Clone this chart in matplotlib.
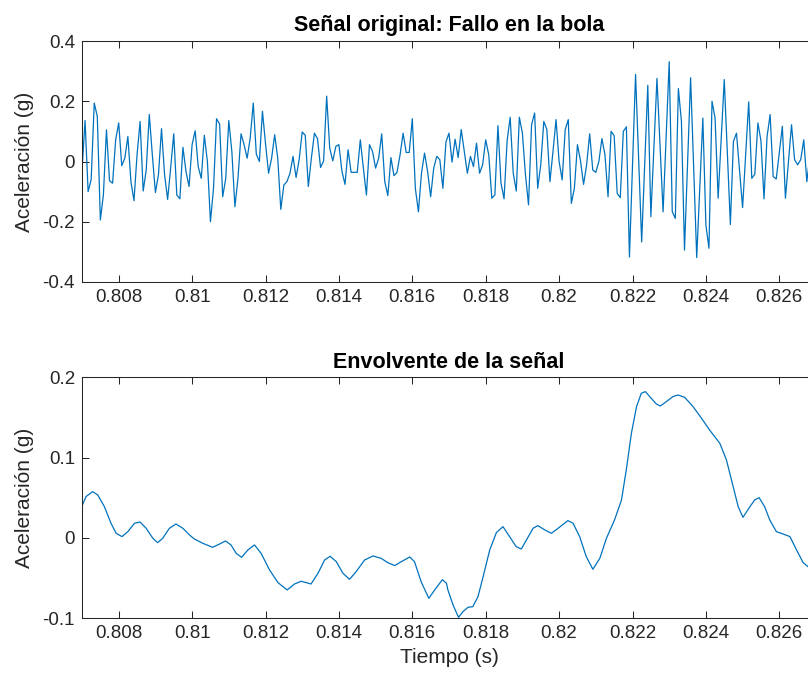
import matplotlib
matplotlib.use("Agg")
import matplotlib.pyplot as plt
import numpy as np
from matplotlib.ticker import FuncFormatter

# --- datos ---
FS = 12000.0          # Hz, muestreo
T0 = 0.807            # s, primera muestra

senal = [
    -0.030, 0.136, -0.100, -0.060, 0.194, 0.150, -0.194, -0.110, 0.105, -0.064,
    -0.072, 0.072, 0.128, -0.014, 0.011, 0.083, -0.067, -0.130, 0.022, 0.133,
    -0.098, -0.028, 0.156, 0.022, -0.103, -0.044, 0.109, -0.044, -0.126, -0.020,
    0.092, -0.111, -0.124, 0.047, -0.033, -0.083, 0.056, 0.102, -0.017, -0.056,
    0.087, 0.000, -0.200, -0.089, 0.142, 0.124, -0.117, -0.056, 0.136, 0.033,
    -0.150, -0.056, 0.092, 0.056, 0.011, 0.078, 0.194, 0.024, 0.000, 0.167,
    0.060, -0.039, 0.011, 0.089, 0.011, -0.159, -0.078, -0.067, -0.039, 0.017,
    -0.053, 0.006, 0.098, 0.087, -0.083, 0.011, 0.094, 0.076, -0.020, 0.002,
    0.217, 0.044, 0.002, 0.050, 0.056, -0.033, -0.076, 0.039, -0.036, -0.036,
    -0.036, 0.072, -0.022, -0.111, 0.056, 0.033, -0.022, 0.011, 0.092, -0.067,
    -0.113, 0.013, -0.047, -0.036, 0.022, 0.094, 0.030, 0.030, 0.142, -0.089,
    -0.167, -0.039, 0.028, -0.033, -0.117, -0.022, 0.017, 0.006, -0.089, 0.065,
    0.094, -0.002, 0.074, 0.013, 0.106, 0.033, -0.039, 0.017, -0.017, 0.061,
    -0.039, -0.011, 0.072, 0.022, -0.122, -0.111, 0.119, -0.072, -0.124, 0.069,
    0.147, -0.039, -0.098, 0.147, 0.094, -0.044, -0.144, 0.122, 0.161, -0.089,
    -0.011, 0.133, 0.106, -0.067, 0.033, 0.139, 0.000, -0.061, 0.106, 0.139,
    -0.139, -0.089, 0.056, 0.002, -0.076, -0.011, 0.092, -0.028, -0.036, 0.000,
    0.076, 0.022, -0.117, 0.100, 0.086, -0.106, -0.120, 0.100, 0.115, -0.317,
    -0.013, 0.289, 0.011, -0.267, -0.007, 0.253, -0.183, 0.047, 0.276, 0.054,
    -0.167, 0.082, 0.331, -0.167, -0.189, 0.242, 0.133, -0.294, -0.009, 0.278,
    -0.020, -0.319, -0.087, 0.144, -0.211, -0.288, 0.200, 0.144, -0.122, 0.075,
    0.272, 0.032, -0.209, 0.067, 0.094, -0.029, -0.153, 0.022, 0.198, -0.056,
    -0.042, 0.128, 0.069, -0.124, 0.083, 0.156, -0.050, -0.058, 0.030, 0.117,
    -0.122, 0.000, 0.122, 0.006, -0.011, 0.006, 0.072, -0.067, 0.020,
]

env_t = [
    0.80700, 0.80711, 0.80729, 0.80743, 0.80761, 0.80779, 0.80793, 0.80809, 0.80825, 0.80843,
    0.80858, 0.80875, 0.80893, 0.80906, 0.80920, 0.80938, 0.80956, 0.80975, 0.80993, 0.81006,
    0.81029, 0.81056, 0.81075, 0.81091, 0.81106, 0.81120, 0.81135, 0.81152, 0.81170, 0.81188,
    0.81211, 0.81234, 0.81259, 0.81279, 0.81297, 0.81311, 0.81324, 0.81343, 0.81361, 0.81376,
    0.81393, 0.81411, 0.81429, 0.81447, 0.81470, 0.81493, 0.81515, 0.81533, 0.81552, 0.81570,
    0.81593, 0.81606, 0.81624, 0.81645, 0.81661, 0.81682, 0.81693, 0.81697, 0.81711, 0.81726,
    0.81738, 0.81752, 0.81765, 0.81779, 0.81793, 0.81811, 0.81829, 0.81847, 0.81865, 0.81883,
    0.81897, 0.81911, 0.81929, 0.81942, 0.81961, 0.81979, 0.81997, 0.82024, 0.82038, 0.82056,
    0.82074, 0.82092, 0.82111, 0.82129, 0.82151, 0.82170, 0.82183, 0.82197, 0.82211, 0.82224,
    0.82235, 0.82251, 0.82265, 0.82276, 0.82292, 0.82310, 0.82324, 0.82342, 0.82365, 0.82388,
    0.82410, 0.82438, 0.82456, 0.82472, 0.82488, 0.82501, 0.82520, 0.82533, 0.82545, 0.82560,
    0.82574, 0.82592, 0.82610, 0.82629, 0.82647, 0.82665, 0.82678, 0.82700,
]
env_v = [
    0.0398, 0.0515, 0.0577, 0.0535, 0.0390, 0.0183, 0.0058, 0.0017, 0.0079, 0.0183,
    0.0199, 0.0120, -0.0004, -0.0058, -0.0004, 0.0120, 0.0174, 0.0120, 0.0037, -0.0012,
    -0.0066, -0.0116, -0.0075, -0.0037, -0.0087, -0.0191, -0.0241, -0.0149, -0.0087, -0.0191,
    -0.0398, -0.0556, -0.0647, -0.0573, -0.0539, -0.0556, -0.0573, -0.0440, -0.0274, -0.0228,
    -0.0295, -0.0440, -0.0515, -0.0419, -0.0274, -0.0224, -0.0253, -0.0307, -0.0344, -0.0295,
    -0.0237, -0.0295, -0.0544, -0.0751, -0.0647, -0.0519, -0.0564, -0.0647, -0.0834, -0.0988,
    -0.0917, -0.0863, -0.0855, -0.0730, -0.0481, -0.0149, 0.0066, 0.0141, 0.0017, -0.0108,
    -0.0137, -0.0025, 0.0120, 0.0154, 0.0100, 0.0058, 0.0120, 0.0216, 0.0183, 0.0017,
    -0.0232, -0.0390, -0.0253, -0.0004, 0.0224, 0.0473, 0.0846, 0.1303, 0.1635, 0.1801,
    0.1822, 0.1739, 0.1668, 0.1643, 0.1697, 0.1759, 0.1780, 0.1751, 0.1635, 0.1490,
    0.1344, 0.1178, 0.0971, 0.0680, 0.0390, 0.0257, 0.0390, 0.0473, 0.0502, 0.0390,
    0.0224, 0.0079, 0.0050, 0.0017, -0.0149, -0.0307, -0.0357, -0.0420,
]

XTICKS = [0.808, 0.810, 0.812, 0.814, 0.816, 0.818, 0.820, 0.822, 0.824, 0.826]

AZUL = "#0072BD"
GRIS = "#262626"

plt.rcParams["font.family"] = ["Liberation Sans", "DejaVu Sans"]
plt.rcParams["axes.unicode_minus"] = False


def estilo_matlab(ax, yticks, ylim):
    ax.set_xlim(0.807, 0.827)
    ax.set_ylim(*ylim)
    ax.set_xticks(XTICKS)
    ax.set_yticks(yticks)
    fmt = FuncFormatter(lambda v, _: f"{v:g}")
    ax.xaxis.set_major_formatter(fmt)
    ax.yaxis.set_major_formatter(fmt)
    ax.tick_params(direction="in", top=True, right=True, length=5, width=0.75,
                   colors=GRIS, labelsize=13.5, pad=5)
    for s in ax.spines.values():
        s.set_color(GRIS)
        s.set_linewidth(0.75)
    ax.set_ylabel("Aceleración (g)", fontsize=15, color=GRIS, labelpad=6)


fig = plt.figure(figsize=(8.08, 6.8), dpi=100)
W, H = 808.0, 680.0
ax1 = fig.add_axes([82 / W, 1 - 282 / H, 734 / W, 241 / H])
ax2 = fig.add_axes([82 / W, 1 - 618.3 / H, 734 / W, 241 / H])

t = T0 + np.arange(len(senal)) / FS
ax1.plot(t, senal, color=AZUL, linewidth=0.9)
estilo_matlab(ax1, [-0.4, -0.2, 0, 0.2, 0.4], (-0.4, 0.4))
ax1.set_title("Señal original: Fallo en la bola", fontsize=15.5, fontweight="bold", pad=7)

ax2.plot(env_t, env_v, color=AZUL, linewidth=0.9, solid_joinstyle="round")
estilo_matlab(ax2, [-0.1, 0, 0.1, 0.2], (-0.1, 0.2))
ax2.set_title("Envolvente de la señal", fontsize=15.5, fontweight="bold", pad=7)
ax2.set_xlabel("Tiempo (s)", fontsize=15, color=GRIS, labelpad=4)

fig.savefig("out.png", dpi=100)
